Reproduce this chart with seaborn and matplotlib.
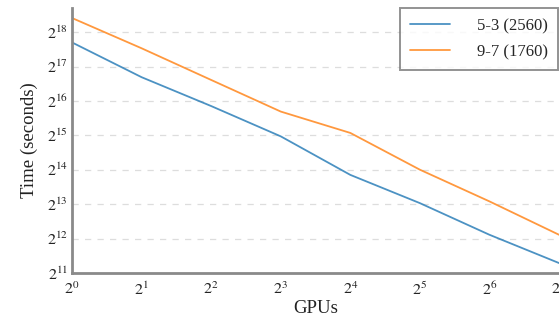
import matplotlib
matplotlib.use("Agg")
import matplotlib.pyplot as plt
import seaborn as sns
import pandas as pd
import numpy as np
from matplotlib.ticker import FixedLocator, FuncFormatter, NullLocator

gpus = [1, 2, 4, 8, 16, 32, 64, 128]
time_53 = [212900, 105700, 59100, 32100, 14770, 8360, 4420, 2500]
time_97 = [348300, 189300, 100000, 52900, 34400, 16400, 8660, 4420]
labels = ["5-3 (2560)", "9-7 (1760)"]

df = pd.DataFrame({
    "GPUs": gpus * 2,
    "Time": time_53 + time_97,
    "Model": [labels[0]] * len(gpus) + [labels[1]] * len(gpus),
})

sns.set_style("white")
plt.rcParams["font.family"] = ["Liberation Serif", "DejaVu Serif"]
plt.rcParams["mathtext.fontset"] = "stix"

fig = plt.figure(figsize=(5.59, 3.23), dpi=100)
ax = fig.add_axes([0.129, 0.155, 0.871, 0.82])

sns.lineplot(data=df, x="GPUs", y="Time", hue="Model",
             palette=["#1f77b4", "#ff7f0e"], linewidth=1.3, alpha=0.8, ax=ax)

ax.set_xscale("log", base=2)
ax.set_yscale("log", base=2)
ax.set_xlim(1, 128)
ax.set_ylim(2 ** 11, 2 ** 18.7)

ax.xaxis.set_major_locator(FixedLocator([2 ** i for i in range(8)]))
ax.yaxis.set_major_locator(FixedLocator([2 ** i for i in range(11, 19)]))
ax.xaxis.set_minor_locator(NullLocator())
ax.yaxis.set_minor_locator(NullLocator())
fmt = FuncFormatter(lambda v, p: r"$2^{%d}$" % int(round(np.log2(v))))
ax.xaxis.set_major_formatter(fmt)
ax.yaxis.set_major_formatter(fmt)
ax.tick_params(axis="y", labelsize=11.5, length=0, pad=3, colors="#222222")
ax.tick_params(axis="x", labelsize=11.5, length=0, pad=6, colors="#222222")

ax.yaxis.grid(True, linestyle=(0, (5, 5)), color="#dddddd", linewidth=0.9)
ax.xaxis.grid(False)

for s in ["top", "right"]:
    ax.spines[s].set_visible(False)
for s in ["left", "bottom"]:
    ax.spines[s].set_color("#8a8a8a")
    ax.spines[s].set_linewidth(2.0)

ax.set_xlabel("GPUs", fontsize=13.5, color="#222222", labelpad=1)
ax.set_ylabel("Time (seconds)", fontsize=13.5, color="#222222", labelpad=6)

leg = ax.legend(loc="upper right", fontsize=12, frameon=True, fancybox=False,
                shadow=False, borderaxespad=0.0, handlelength=2.4,
                handletextpad=1.6, borderpad=0.6, labelspacing=0.6,
                bbox_to_anchor=(0.997, 1.0))
leg.get_frame().set_edgecolor("#777777")
leg.get_frame().set_linewidth(1.4)
leg.set_title(None)

fig.savefig("out.png", dpi=100)
